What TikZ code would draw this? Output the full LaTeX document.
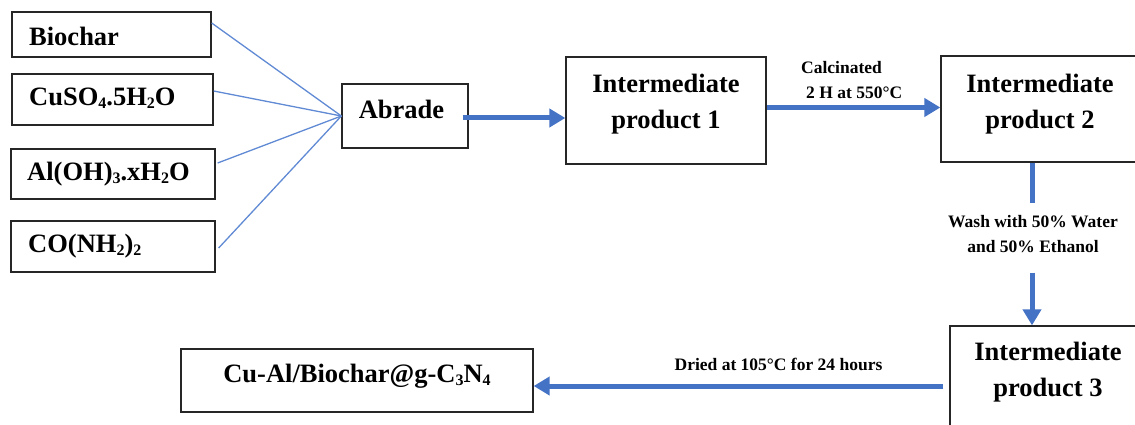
\documentclass[tikz,border=0pt]{standalone}
\usepackage{fontspec}
\setmainfont{Liberation Serif}
\usetikzlibrary{arrows.meta,calc}
\definecolor{flowblue}{RGB}{68,114,196}
\definecolor{feedblue}{RGB}{96,138,212}
% chemical subscript: smaller digits, lowered a little
\newcommand{\chemsub}[1]{\raisebox{-3.5pt}{\fontsize{16}{16}\selectfont #1}}
\begin{document}
\begin{tikzpicture}[x=1pt,y=-1pt,
  box/.style={draw=black!85,line width=1.3pt,inner sep=0pt},
  bigtxt/.style={font=\fontsize{26.5}{36}\selectfont\bfseries,inner sep=0pt,align=center},
  smalltxt/.style={font=\fontsize{17.5}{25}\selectfont\bfseries,inner sep=0pt},
  feed/.style={draw=feedblue,line width=1.3pt},
  flowline/.style={draw=flowblue,line width=5pt},
  flowarrow/.style={flowline,-{Triangle[length=16pt,width=18pt]}}]
\useasboundingbox (0,0) rectangle (1135,425);

% raw materials
\node[box,minimum width=199pt,minimum height=45pt] (bio)  at (111.5,34.5) {};
\node[box,minimum width=201pt,minimum height=51pt] (cuso) at (112.5,99.5) {};
\node[box,minimum width=204pt,minimum height=50pt] (aloh) at (113,174) {};
\node[box,minimum width=204pt,minimum height=51pt] (urea) at (113,246.5) {};
\node[bigtxt,anchor=west] (biot)  at (29,36)   {Biochar};
\node[bigtxt,anchor=west] (cusot) at (29,98) {CuSO\chemsub{4}.5H\chemsub{2}O};
\node[bigtxt,anchor=west] (aloht) at (27,174)  {Al(OH)\chemsub{3}.xH\chemsub{2}O};
\node[bigtxt,anchor=west] (ureat) at (28,246)  {CO(NH\chemsub{2})\chemsub{2}};

% process steps
\node[box,minimum width=126pt,minimum height=64pt] (abrade) at (405,116) {};
\node[bigtxt] (abradet) at (401.5,109) {Abrade};
\node[box,minimum width=200pt,minimum height=107pt] (p1) at (666,110.5) {};
\node[bigtxt] (p1t) at (666,104) {Intermediate\\product 1};
\node[box,minimum width=199pt,minimum height=106pt] (p2) at (1040.5,109) {};
\node[bigtxt] (p2t) at (1040,104) {Intermediate\\product 2};
\node[box,minimum width=196pt,minimum height=120pt] (p3) at (1048,386) {};
\node[bigtxt] (p3t) at (1048,372) {Intermediate\\product 3};
\node[box,minimum width=352pt,minimum height=63pt] (final) at (357,380.5) {};
\node[bigtxt] (finalt) at (357,376) {Cu-Al/Biochar@g-C\chemsub{3}N\chemsub{4}};

% step conditions
\node[smalltxt,anchor=west,align=left] (calc) at (801,80.5) {Calcinated\\\hspace*{5pt}2 H at 550°C};
\node[smalltxt,align=center] (wash) at (1033,234.5) {Wash with 50\% Water\\and 50\% Ethanol};
\node[smalltxt] (dry) at (778.5,364.5) {Dried at 105°C for 24 hours};

% feeds into the abrading step
\draw[feed] ([yshift=11.5pt]bio.east)  -- (abrade.west);
\draw[feed] ([yshift=8.5pt]cuso.east)  -- (abrade.west);
\draw[feed] ([xshift=2pt,yshift=11pt]aloh.east) -- (abrade.west);
\draw[feed] ([xshift=3pt,yshift=-1.5pt]urea.east) -- (abrade.west);

% main flow
\draw[flowarrow] ([xshift=-6pt,yshift=-2pt]abrade.east) -- ([yshift=-2pt]abrade.east -| p1.west);
\draw[flowarrow] ([yshift=3pt]p1.east) -- ([yshift=3pt]p1.east -| p2.west);
\coordinate (wtop) at ([xshift=-8.5pt]p2.south);
\coordinate (wlow) at ([xshift=-8.5pt,yshift=-110pt]p2.south);
\draw[flowline] (wtop) -- ([yshift=-40pt]wtop);
\draw[flowarrow] (wlow) -- (wlow |- p3.north);
\draw[flowarrow] ([xshift=-6pt]p3.west) -- (p3.west -| final.east);
\end{tikzpicture}
\end{document}
